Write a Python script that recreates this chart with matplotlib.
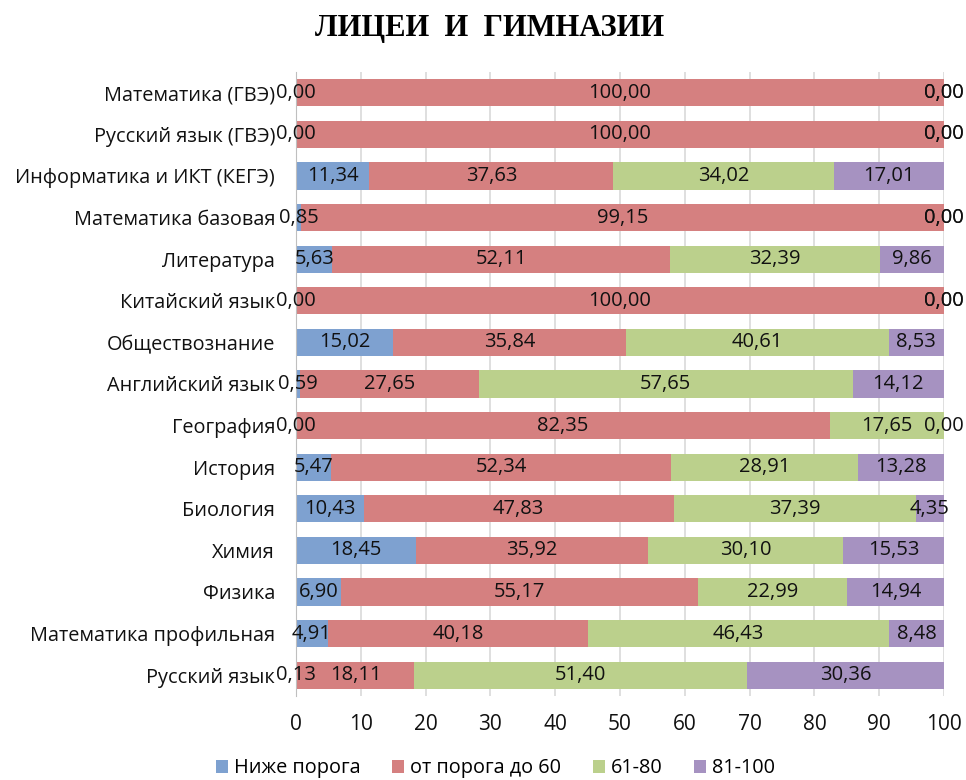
import matplotlib
matplotlib.use('Agg')
import matplotlib.pyplot as plt
import numpy as np

plt.rcParams['font.family'] = ['Open Sans', 'DejaVu Sans']

subjects = ['Математика (ГВЭ)', 'Русский язык (ГВЭ)', 'Информатика и ИКТ (КЕГЭ)',
            'Математика базовая', 'Литература', 'Китайский язык', 'Обществознание',
            'Английский язык', 'География', 'История', 'Биология', 'Химия',
            'Физика', 'Математика профильная', 'Русский язык']
below = [0, 0, 11.34, 0.85, 5.63, 0, 15.02, 0.59, 0, 5.47, 10.43, 18.45, 6.90, 4.91, 0.13]
to60 = [100, 100, 37.63, 99.15, 52.11, 100, 35.84, 27.65, 82.35, 52.34, 47.83, 35.92, 55.17, 40.18, 18.11]
mid = [0, 0, 34.02, 0, 32.39, 0, 40.61, 57.65, 17.65, 28.91, 37.39, 30.10, 22.99, 46.43, 51.40]
top = [0, 0, 17.01, 0, 9.86, 0, 8.53, 14.12, 0, 13.28, 4.35, 15.53, 14.94, 8.48, 30.36]

series = ['Ниже порога', 'от порога до 60', '61-80', '81-100']
colors = ['#7ea1d0', '#d58080', '#bbd08c', '#a692c1']

fig = plt.figure(figsize=(9.66, 7.8), dpi=100)
ax = fig.add_axes([0.3064, 0.1077, 0.6708, 0.8])

y = np.arange(len(subjects))
left = np.zeros(len(subjects))
for name, vals, c in zip(series, [below, to60, mid, top], colors):
    vals = np.array(vals)
    ax.barh(y, vals, left=left, height=0.65, color=c, label=name, zorder=2)
    for yi, l, v in zip(y, left, vals):
        ax.text(l + v / 2, yi, f'{v:.2f}'.replace('.', ','), ha='center', va='center',
                fontsize=14.5, color='#111111', zorder=3)
    left = left + vals

ax.set_ylim(len(subjects) - 0.5, -0.5)
ax.set_xlim(0, 100)
ax.set_xticks(range(0, 101, 10))
ax.set_yticks(y)
ax.set_yticklabels(subjects)
ax.tick_params(axis='y', length=0, pad=15, labelsize=14.3, labelcolor='#111111')
ax.tick_params(axis='x', length=0, pad=13, labelsize=15, labelcolor='#111111')
ax.grid(axis='x', color='#d9d9d9', linewidth=1.2, zorder=0)
for s in ['top', 'right', 'bottom']:
    ax.spines[s].set_visible(False)
ax.spines['left'].set_color('#bfbfbf')

fig.text(0.507, 0.963, 'ЛИЦЕИ  И  ГИМНАЗИИ', ha='center', va='center',
         fontsize=22, fontweight='bold', family=['Liberation Serif', 'DejaVu Serif'])

handles, labels = ax.get_legend_handles_labels()
fig.legend(handles, labels, loc='center', bbox_to_anchor=(0.513, 0.015), ncol=4, frameon=False,
           fontsize=14.3, handlelength=0.6, handleheight=0.6, handletextpad=0.3,
           columnspacing=1.6)

fig.savefig('out.png', dpi=100)
